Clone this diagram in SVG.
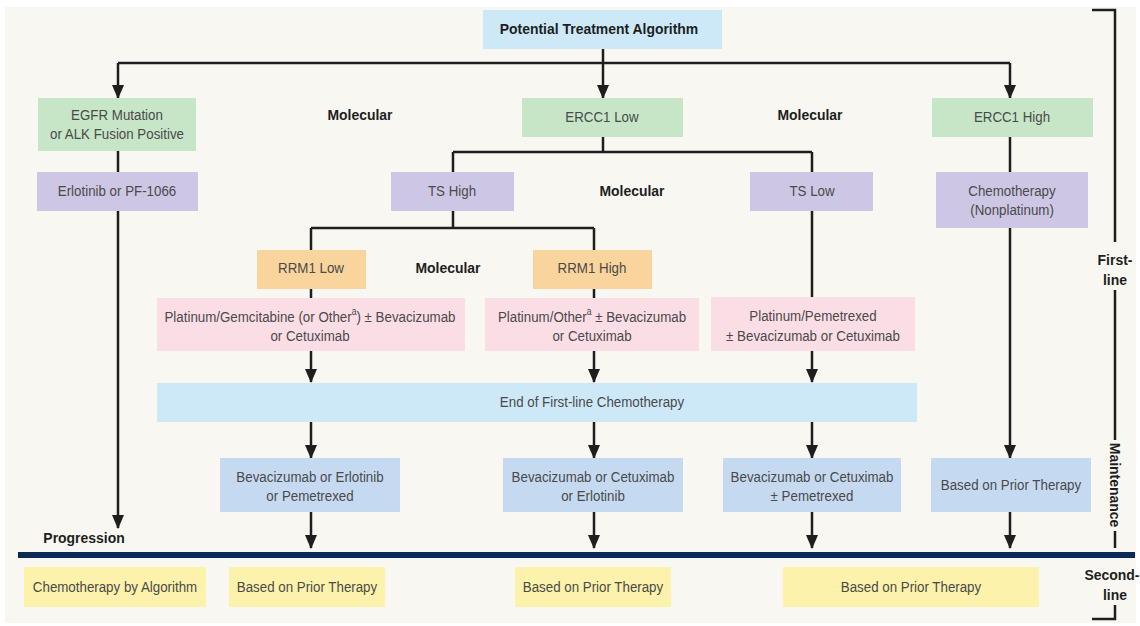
<svg xmlns="http://www.w3.org/2000/svg" width="1140" height="626" viewBox="0 0 1140 626">
<defs>
<marker id="ad" markerUnits="userSpaceOnUse" markerWidth="14" markerHeight="12" refX="13" refY="6" orient="auto" viewBox="0 0 14 12">
<path d="M0,0 L14,6 L0,12 Z" fill="#1e1e1e"/>
</marker>
<style>
.t{font-family:"Liberation Sans",Arial,sans-serif;font-size:15.5px;fill:#4a4a4a;text-anchor:middle;dominant-baseline:central}
.b{font-family:"Liberation Sans",Arial,sans-serif;font-size:15.5px;font-weight:bold;fill:#1e1e1e;text-anchor:middle;dominant-baseline:central}
.ln{fill:none;stroke:#1e1e1e;stroke-width:2.5}
.ar{fill:none;stroke:#1e1e1e;stroke-width:2.5;marker-end:url(#ad)}
.g{fill:#c7e6c8}.p{fill:#cdc7e5}.o{fill:#f9d49d}.k{fill:#fbdde6}.lb{fill:#cde9f8}.m{fill:#c5daf1}.y{fill:#fcf2ab}
</style>
</defs>
<rect x="0" y="0" width="1140" height="626" fill="#ffffff"/>
<rect x="5" y="7" width="1131" height="616" fill="#f9f7f2"/>

<g id="connectors">
<path class="ln" d="M603,49 V63 M118,63 H1010"/>
<path class="ar" d="M118,63 V98"/>
<path class="ar" d="M603,63 V98"/>
<path class="ar" d="M1010,63 V98"/>
<path class="ln" d="M118,151 V172"/>
<path class="ar" d="M118,211 V528"/>
<path class="ln" d="M603,137 V152 M453,152 H812 M453,152 V172 M812,152 V172"/>
<path class="ln" d="M453,211 V228 M311,228 H594 M311,228 V250 M594,228 V250"/>
<path class="ln" d="M311,289 V298 M594,289 V298 M812,211 V297"/>
<path class="ln" d="M1010,137 V172"/>
<path class="ar" d="M1010,228 V458"/>
<path class="ar" d="M311,351 V382"/>
<path class="ar" d="M594,351 V382"/>
<path class="ar" d="M812,351 V382"/>
<path class="ar" d="M311,422 V458"/>
<path class="ar" d="M594,422 V458"/>
<path class="ar" d="M812,422 V458"/>
<path class="ar" d="M311,512 V548"/>
<path class="ar" d="M594,512 V548"/>
<path class="ar" d="M812,512 V548"/>
<path class="ar" d="M1010,512 V548"/>
</g>

<g id="title"><rect class="lb" x="483" y="10" width="239" height="39"/><text class="b" transform="translate(599,29) scale(.9,1)">Potential Treatment Algorithm</text></g>
<g id="egfr"><rect class="g" x="38" y="98" width="158" height="53"/><text class="t" transform="translate(117,115) scale(.86,1)">EGFR Mutation</text><text class="t" transform="translate(117,134) scale(.86,1)">or ALK Fusion Positive</text></g>
<g id="erlotinib"><rect class="p" x="37" y="172" width="161" height="39"/><text class="t" transform="translate(117,191) scale(.86,1)">Erlotinib or PF-1066</text></g>
<g id="mol1"><text class="b" transform="translate(360,115) scale(.9,1)">Molecular</text></g>
<g id="ercc1low"><rect class="g" x="522" y="98" width="161" height="39"/><text class="t" transform="translate(602,117) scale(.86,1)">ERCC1 Low</text></g>
<g id="mol2"><text class="b" transform="translate(810,115) scale(.9,1)">Molecular</text></g>
<g id="ercc1high"><rect class="g" x="932" y="98" width="161" height="39"/><text class="t" transform="translate(1012,117) scale(.86,1)">ERCC1 High</text></g>
<g id="tshigh"><rect class="p" x="391" y="172" width="123" height="39"/><text class="t" transform="translate(452,191) scale(.86,1)">TS High</text></g>
<g id="mol3"><text class="b" transform="translate(632,191) scale(.9,1)">Molecular</text></g>
<g id="tslow"><rect class="p" x="750" y="172" width="123" height="39"/><text class="t" transform="translate(812,191) scale(.86,1)">TS Low</text></g>
<g id="chemo"><rect class="p" x="936" y="172" width="152" height="56"/><text class="t" transform="translate(1012,191) scale(.86,1)">Chemotherapy</text><text class="t" transform="translate(1012,210) scale(.86,1)">(Nonplatinum)</text></g>
<g id="rrm1low"><rect class="o" x="257" y="250" width="109" height="39"/><text class="t" transform="translate(311,268) scale(.86,1)">RRM1 Low</text></g>
<g id="mol4"><text class="b" transform="translate(448,268) scale(.9,1)">Molecular</text></g>
<g id="rrm1high"><rect class="o" x="533" y="250" width="119" height="39"/><text class="t" transform="translate(592,268) scale(.86,1)">RRM1 High</text></g>
<g id="plat1"><rect class="k" x="157" y="298" width="308" height="53"/><text class="t" transform="translate(310,317) scale(.86,1)">Platinum/Gemcitabine (or Other<tspan font-size="10" dy="-5">a</tspan><tspan dy="5">) ± Bevacizumab</tspan></text><text class="t" transform="translate(310,336) scale(.86,1)">or Cetuximab</text></g>
<g id="plat2"><rect class="k" x="485" y="298" width="214" height="53"/><text class="t" transform="translate(592,317) scale(.86,1)">Platinum/Other<tspan font-size="10" dy="-5">a</tspan><tspan dy="5"> ± Bevacizumab</tspan></text><text class="t" transform="translate(592,336) scale(.86,1)">or Cetuximab</text></g>
<g id="plat3"><rect class="k" x="711" y="297" width="204" height="54"/><text class="t" transform="translate(813,316) scale(.86,1)">Platinum/Pemetrexed</text><text class="t" transform="translate(813,336) scale(.86,1)">± Bevacizumab or Cetuximab</text></g>
<g id="endfirst"><rect class="lb" x="157" y="383" width="760" height="39"/><text class="t" transform="translate(592,402) scale(.86,1)">End of First-line Chemotherapy</text></g>
<g id="maint1"><rect class="m" x="220" y="458" width="180" height="54"/><text class="t" transform="translate(310,477) scale(.86,1)">Bevacizumab or Erlotinib</text><text class="t" transform="translate(310,496) scale(.86,1)">or Pemetrexed</text></g>
<g id="maint2"><rect class="m" x="503" y="458" width="180" height="54"/><text class="t" transform="translate(593,477) scale(.86,1)">Bevacizumab or Cetuximab</text><text class="t" transform="translate(593,496) scale(.86,1)">or Erlotinib</text></g>
<g id="maint3"><rect class="m" x="723" y="458" width="178" height="54"/><text class="t" transform="translate(812,477) scale(.86,1)">Bevacizumab or Cetuximab</text><text class="t" transform="translate(812,496) scale(.86,1)">± Pemetrexed</text></g>
<g id="maint4"><rect class="m" x="931" y="458" width="160" height="54"/><text class="t" transform="translate(1011,485) scale(.86,1)">Based on Prior Therapy</text></g>
<g id="progression"><text class="b" transform="translate(84,538) scale(.9,1)">Progression</text></g>
<g id="divider"><rect x="18" y="552" width="1117" height="6" fill="#0b2a55"/></g>
<g id="second1"><rect class="y" x="24" y="567" width="182" height="40"/><text class="t" transform="translate(115,587) scale(.86,1)">Chemotherapy by Algorithm</text></g>
<g id="second2"><rect class="y" x="229" y="567" width="156" height="40"/><text class="t" transform="translate(307,587) scale(.86,1)">Based on Prior Therapy</text></g>
<g id="second3"><rect class="y" x="515" y="567" width="156" height="40"/><text class="t" transform="translate(593,587) scale(.86,1)">Based on Prior Therapy</text></g>
<g id="second4"><rect class="y" x="783" y="567" width="256" height="40"/><text class="t" transform="translate(911,587) scale(.86,1)">Based on Prior Therapy</text></g>
<g id="phases">
<path class="ln" d="M1092,10 H1115 V242 M1115,290 V440 M1115,531 V548 M1115,605 V619 H1092"/>
<text class="b" transform="translate(1115,260) scale(.9,1)">First-</text>
<text class="b" transform="translate(1115,280) scale(.9,1)">line</text>
<text class="b" transform="translate(1115,485) rotate(90) scale(.9,1)">Maintenance</text>
<text class="b" transform="translate(1112,575) scale(.9,1)">Second-</text>
<text class="b" transform="translate(1115,595) scale(.9,1)">line</text>
</g>
</svg>
